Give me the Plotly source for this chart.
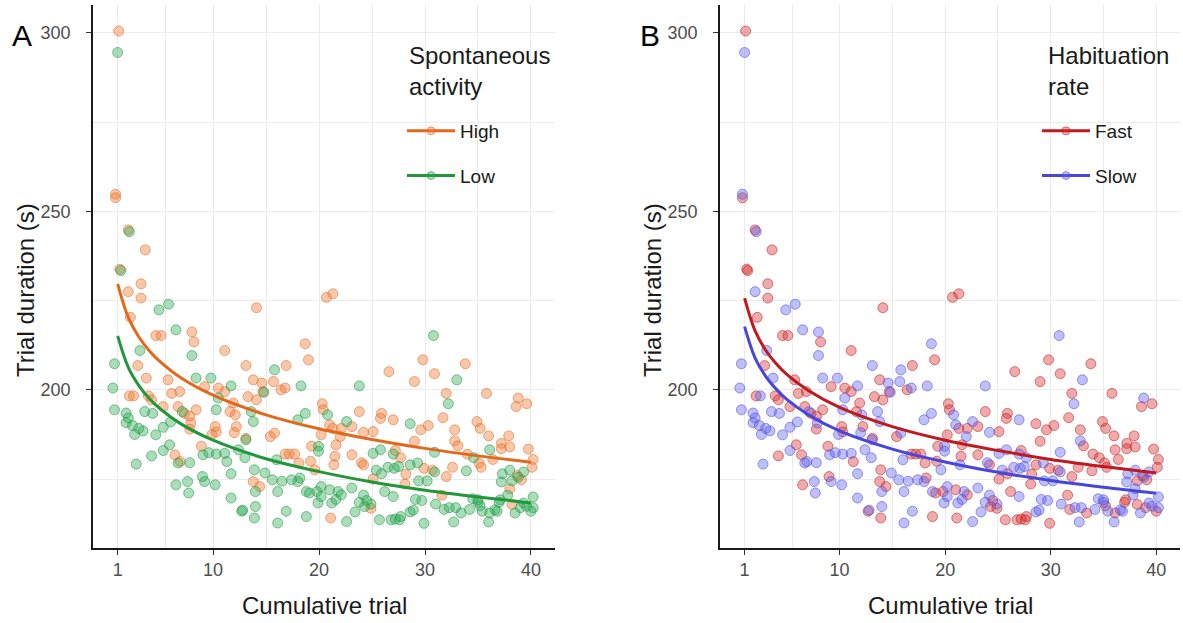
import plotly.graph_objects as go

# ---------------- data ----------------
# one point per entry; rows of 10 keep the four lists aligned
trial = [
    1.1, 1.0, 0.8, 0.8, 2.0, 2.1, 3.6, 1.2, 1.3, 2.0,
    3.2, 3.2, 2.2, 4.9, 5.8, 4.6, 5.1, 6.5, 8.0, 8.2,
    8.0, 11.1, 13.1, 3.1, 0.7, 2.9, 3.7, 0.55, 2.1, 2.5,
    3.9, 4.2, 5.75, 6.1, 6.85, 6.7, 5.3, 0.7, 1.8, 2.0,
    1.8, 2.4, 3.0, 2.6, 3.4, 3.55, 4.3, 4.6, 5.3, 6.0,
    5.9, 5.3, 6.4, 6.9, 6.7, 7.8, 4.2, 2.75, 7.3, 8.4,
    7.1, 7.8, 7.9, 7.8, 8.4, 9.8, 9.2, 10.5, 11.1, 11.7,
    10.5, 10.3, 11.9, 11.6, 12.1, 12.2, 12.0, 10.2, 9.9, 10.3,
    8.9, 9.05, 9.6, 10.3, 11.1, 11.3, 12.4, 13.1, 13.1, 11.7,
    13.0, 9.0, 9.2, 10.2, 6.5, 7.6, 7.7, 11.7, 12.7, 12.8,
    20.7, 21.3, 14.1, 18.7, 19.0, 16.9, 15.8, 13.8, 14.6, 15.7,
    14.7, 14.8, 16.4, 16.8, 18.3, 13.3, 14.1, 13.6, 13.8, 18.7,
    18.0, 20.3, 20.4, 20.8, 22.6, 23.1, 23.8, 25.9, 25.8, 27.0,
    25.1, 24.2, 21.0, 21.3, 22.1, 22.0, 21.6, 23.1, 24.0, 24.2,
    21.5, 21.4, 20.2, 15.4, 15.8, 19.3, 19.95, 19.95, 16.8, 17.2,
    17.7, 18.1, 19.2, 19.6, 18.2, 18.0, 16.0, 14.9, 13.9, 15.6,
    16.5, 13.8, 14.4, 14.0, 18.8, 19.8, 20.2, 21.0, 21.8, 22.1,
    23.1, 24.2, 24.5, 24.9, 24.3, 24.9, 25.1, 25.1, 25.4, 25.9,
    26.5, 25.8, 27.1, 27.0, 19.9, 21.2, 18.8, 22.6, 21.1, 16.9,
    16.1, 13.9, 14.0, 25.7, 26.8, 27.6, 23.8, 26.6, 23.8, 30.8,
    29.8, 33.8, 30.9, 29.0, 33.0, 32.0, 32.2, 35.8, 38.8, 38.6,
    39.6, 31.7, 28.6, 29.6, 30.3, 32.8, 34.9, 35.2, 36.0, 37.9,
    37.2, 32.8, 33.1, 39.75, 29.0, 27.2, 27.7, 30.9, 36.1, 37.2,
    38.0, 36.4, 34.0, 34.6, 40.2, 27.5, 28.6, 29.3, 29.9, 30.7,
    30.9, 32.6, 35.1, 35.3, 33.9, 32.0, 28.2, 28.1, 37.3, 38.0,
    37.2, 38.2, 38.8, 39.3, 38.7, 39.1, 40.1, 40.2, 40.2, 40.0,
    29.4, 30.2, 27.2, 27.7, 28.6, 28.9, 29.9, 32.7, 29.1, 29.7,
    31.0, 31.8, 32.3, 32.9, 31.6, 34.5, 35.0, 35.4, 36.0, 36.1,
    35.2, 36.8, 37.0, 38.2, 37.8, 39.0, 38.0, 35.0, 36.6, 37.1,
    39.3, 39.6, 38.5, 33.4, 34.2, 17.4, 19.1, 20.2, 21.6, 23.4,
    26.2, 27.0, 16.1,
]

duration = [
    300.5, 294.5, 254.8, 253.8, 244.8, 244.3, 239.2, 233.8, 233.4, 227.5,
    229.7, 225.7, 220.3, 222.4, 224.0, 215.2, 215.2, 216.8, 216.2, 213.4,
    209.6, 211.0, 206.8, 211.0, 207.3, 206.8, 203.3, 200.5, 198.3, 198.3,
    198.3, 197.2, 202.8, 199.0, 199.5, 195.3, 195.3, 194.4, 193.5, 192.1,
    190.8, 190.0, 189.2, 187.5, 188.5, 193.9, 193.4, 187.4, 189.5, 191.0,
    184.6, 183.0, 181.8, 179.9, 179.5, 179.6, 181.5, 179.2, 193.4, 194.4,
    193.9, 192.6, 190.7, 189.0, 203.3, 203.3, 200.9, 200.5, 199.5, 201.1,
    197.7, 194.4, 196.3, 193.9, 193.0, 189.7, 188.0, 189.7, 187.5, 188.2,
    184.2, 181.8, 182.4, 182.0, 182.2, 179.9, 183.2, 186.4, 186.0, 176.5,
    181.0, 175.7, 174.3, 173.4, 173.4, 174.3, 171.1, 169.7, 166.0, 166.3,
    225.9, 226.9, 223.0, 212.9, 208.4, 206.8, 205.6, 202.8, 201.9, 202.3,
    199.5, 199.3, 200.0, 200.5, 201.1, 198.1, 197.2, 193.9, 191.1, 193.4,
    191.6, 196.1, 194.4, 193.0, 191.1, 189.7, 193.9, 193.4, 192.0, 191.6,
    188.3, 188.1, 190.2, 189.2, 189.2, 186.9, 184.6, 181.8, 179.6, 179.0,
    181.4, 179.0, 187.4, 186.9, 187.9, 184.2, 184.2, 182.8, 182.0, 182.0,
    182.0, 179.5, 180.0, 177.6, 175.3, 174.3, 180.4, 176.7, 177.6, 174.8,
    174.4, 174.3, 172.9, 171.5, 171.5, 171.5, 172.9, 172.0, 171.5, 170.6,
    172.5, 170.5, 169.0, 168.0, 167.3, 166.8, 175.0, 182.2, 177.5, 176.5,
    178.3, 183.2, 178.0, 182.0, 168.3, 168.3, 164.5, 163.1, 164.1, 166.0,
    162.7, 164.1, 167.3, 163.6, 163.6, 163.6, 168.5, 205.1, 201.1, 215.2,
    208.4, 207.3, 204.5, 202.3, 202.8, 199.0, 196.1, 199.0, 197.7, 195.3,
    196.1, 192.2, 190.5, 188.8, 190.0, 188.8, 191.1, 189.2, 187.1, 187.1,
    185.0, 185.7, 184.3, 183.4, 185.6, 183.0, 181.0, 182.5, 183.2, 183.5,
    184.0, 180.5, 182.0, 181.0, 180.5, 178.5, 179.0, 179.5, 178.0, 177.5,
    177.0, 178.3, 179.5, 178.3, 177.3, 175.7, 176.4, 173.6, 176.5, 177.5,
    174.2, 174.5, 175.5, 177.0, 176.0, 174.8, 178.3, 170.0, 167.0, 166.0,
    174.5, 174.5, 163.8, 164.5, 165.8, 166.3, 162.6, 163.0, 169.3, 169.0,
    168.0, 166.5, 167.0, 167.0, 170.5, 169.5, 168.5, 166.0, 163.0, 165.5,
    167.5, 166.0, 168.5, 167.9, 170.5, 167.0, 172.3, 169.2, 166.4, 169.2,
    168.3, 167.4, 165.5, 165.5, 166.5, 174.8, 171.1, 170.1, 169.3, 165.8,
    171.5, 170.1, 171.5,
]

# spontaneous activity: H = High, L = Low
activity = list(
    "HLHHHLHHLH" "HHHLLHHLHH" "LHHLLHHLHH" "HHHHHHHLLL" "LLLLLLLLLL"
    "LLHHLLLLHH" "LHHHLLHHHL" "LLHHHHHHHH" "HLLLLLLHLL" "LLLLLLLLLL"
    "HHHHHHLHHH" "HLHHLHHLLL" "LHHLLHHHHH" "HHHHHHHHHH" "HHHHHHLLHH"
    "HHHHLLLLLL" "LHHLLLLLLL" "LLLLLHHLLL" "LLLLLLLLHL" "LLLLLLLHLL"
    "HHHHLHLHHH" "HHLHHHHHHH" "HHHHHHHLLH" "HHHLHLLLHH" "LHHHLHHHLL"
    "LLLLHHHLLL" "LLLLLLLLLL" "LLLLHLLLLL" "LLLHLLHLLL" "LLLLLLLLLL"
    "LLL"
)

# habituation rate: F = Fast, S = Slow
habituation = list(
    "FSSFFSFFFS" "FFFSSFFSSF" "SFSSSFSSFS" "FFFFFFFSSS" "SSSSSSSSSS"
    "FSFSSSFSFF" "SFSFSSFFFS" "SSFFSFSFSF" "FSSSSFSFSS" "SFSSFSSSFS"
    "FFFSFFSFSS" "FSFSSFFSSS" "SFFSSFFFFS" "FSSFFSFFSF" "FSFFSFSSFF"
    "FFFSFSSSFS" "SFFSSFSFSF" "SSFSFFFSSF" "SSSSSSFSFS" "SFSFFFSFSS"
    "FFFFSFSFSF" "FFFFFFFFFF" "FSFFFFSSFF" "FFFFFSFSFF" "SFFFFFFFSS"
    "SFSSFFFSSF" "SSFFSSFSSS" "SFSSFSSSSF" "FSFFSFSSSF" "SSSFSSFSSS"
    "FSS"
)

curve_trial = [1, 2, 3, 4, 5, 7, 10, 15, 20, 25, 30, 35, 40]
high_fit = [229.7, 220.3, 214.8, 210.9, 207.9, 203.3, 198.5, 193.0, 189.1, 186.1, 183.6, 181.5, 179.7]
low_fit = [215.1, 206.3, 201.2, 197.5, 194.7, 190.4, 185.9, 180.7, 177.1, 174.2, 171.9, 170.0, 168.3]
fast_fit = [225.7, 216.5, 211.1, 207.3, 204.3, 199.9, 195.1, 189.7, 185.9, 183.0, 180.5, 178.5, 176.7]
slow_fit = [217.7, 208.9, 203.8, 200.2, 197.3, 193.1, 188.5, 183.4, 179.8, 176.9, 174.6, 172.7, 171.0]

x_ticks = [1, 10, 20, 30, 40]
y_ticks = [200, 250, 300]

# ---------------- styling ----------------
FONT = "Liberation Sans, Arial, sans-serif"
styles = {
    "H": dict(name="High", pt="rgba(240,125,55,0.42)", edge="rgba(225,105,35,0.55)", line="#E2691C"),
    "L": dict(name="Low", pt="rgba(45,170,85,0.40)", edge="rgba(30,150,65,0.55)", line="#22963A"),
    "F": dict(name="Fast", pt="rgba(215,45,45,0.40)", edge="rgba(195,30,30,0.55)", line="#BF1A1F"),
    "S": dict(name="Slow", pt="rgba(95,95,240,0.40)", edge="rgba(75,75,225,0.55)", line="#4646DE"),
}
fits = {"H": high_fit, "L": low_fit, "F": fast_fit, "S": slow_fit}

n = min(len(trial), len(duration), len(activity), len(habituation))
fig = go.Figure()


def add_panel(groups, codes, xa, ya, legend):
    for code in codes:
        st = styles[code]
        xs = [trial[i] for i in range(n) if groups[i] == code]
        ys = [duration[i] for i in range(n) if groups[i] == code]
        fig.add_trace(go.Scatter(x=xs, y=ys, mode="markers", xaxis=xa, yaxis=ya, showlegend=False,
                                 marker=dict(size=10, color=st["pt"], line=dict(width=1, color=st["edge"])),
                                 hoverinfo="skip"))
    for code in codes:
        st = styles[code]
        fig.add_trace(go.Scatter(x=curve_trial, y=fits[code], mode="lines", xaxis=xa, yaxis=ya,
                                 showlegend=False, line=dict(color=st["line"], width=3, shape="spline")))
    for code in codes:
        st = styles[code]
        fig.add_trace(go.Scatter(x=[None], y=[None], mode="lines+markers", name=st["name"], xaxis=xa, yaxis=ya,
                                 legend=legend, legendgroup=legend + code,
                                 line=dict(color=st["line"], width=3),
                                 marker=dict(size=8, color=st["pt"], line=dict(width=1, color=st["edge"]))))


add_panel(activity, ["H", "L"], "x", "y", "legend")
add_panel(habituation, ["F", "S"], "x2", "y2", "legend2")

grid = "#EBEBEB"
xr = [-1.33, 42.25]
yr = [155.7, 307.8]


def xaxis(domain, anchor):
    return dict(domain=domain, anchor=anchor, range=xr, tickvals=x_ticks, showline=True, linecolor="#1a1a1a",
                linewidth=1.6, ticks="outside", ticklen=5, tickcolor="#333333", tickwidth=1.2,
                tickfont=dict(family=FONT, size=18, color="#4D4D4D"), showgrid=True, gridcolor=grid, gridwidth=1.1,
                zeroline=False, ticklabelstandoff=0,
                minor=dict(tickvals=[5.5, 15, 25, 35], showgrid=True, gridcolor=grid, gridwidth=0.6, ticks=""))


def yaxis(anchor):
    return dict(domain=[0.1204, 0.992], anchor=anchor, range=yr, tickvals=y_ticks, showline=True,
                linecolor="#1a1a1a", linewidth=1.6, ticks="outside", ticklen=5, tickcolor="#333333", tickwidth=1.2,
                tickfont=dict(family=FONT, size=18, color="#4D4D4D"), showgrid=True, gridcolor=grid, gridwidth=1.1,
                zeroline=False, ticklabelstandoff=12,
                minor=dict(tickvals=[175, 225, 275], showgrid=True, gridcolor=grid, gridwidth=0.6, ticks=""))


leg_common = dict(bgcolor="rgba(0,0,0,0)", borderwidth=0, yanchor="top", xanchor="left",
                  font=dict(family=FONT, size=19, color="#1a1a1a"), tracegroupgap=17, itemwidth=48)

fig.update_layout(
    width=1183, height=623, margin=dict(l=0, r=0, t=0, b=0),
    paper_bgcolor="white", plot_bgcolor="white",
    font=dict(family=FONT, color="#1a1a1a"),
    xaxis=xaxis([0.0786, 0.469], "y"), yaxis=yaxis("x"),
    xaxis2=xaxis([0.6086, 0.9975], "y2"), yaxis2=yaxis("x2"),
    legend=dict(leg_common, x=402 / 1183, y=1 - 112 / 623),
    legend2=dict(leg_common, x=1037 / 1183, y=1 - 112 / 623),
    showlegend=True,
)

for title, lx in [("Spontaneous<br>activity", 407), ("Habituation<br>rate", 1046)]:
    fig.add_annotation(text=title, x=lx / 1183, y=1 - 40 / 623, xref="paper", yref="paper", showarrow=False,
                       xanchor="left", yanchor="top", align="left",
                       font=dict(family=FONT, size=24, color="#1a1a1a"))

for lab, lx in [("A", 22), ("B", 650)]:
    fig.add_annotation(text=lab, x=lx / 1183, y=1 - 35 / 623, xref="paper", yref="paper", showarrow=False,
                       xanchor="center", yanchor="middle", font=dict(family=FONT, size=30, color="black"))

for cx in [(93 + 555) / 2, (720 + 1180) / 2]:
    fig.add_annotation(text="Cumulative trial", x=cx / 1183, y=1 - 605 / 623, xref="paper", yref="paper",
                       showarrow=False, xanchor="center", yanchor="middle",
                       font=dict(family=FONT, size=24, color="#1a1a1a"))
for cx in [25, 652]:
    fig.add_annotation(text="Trial duration (s)", x=cx / 1183, y=1 - 290 / 623, xref="paper", yref="paper",
                       showarrow=False, xanchor="center", yanchor="middle", textangle=-90,
                       font=dict(family=FONT, size=24, color="#1a1a1a"))

fig.write_html("out.html")
